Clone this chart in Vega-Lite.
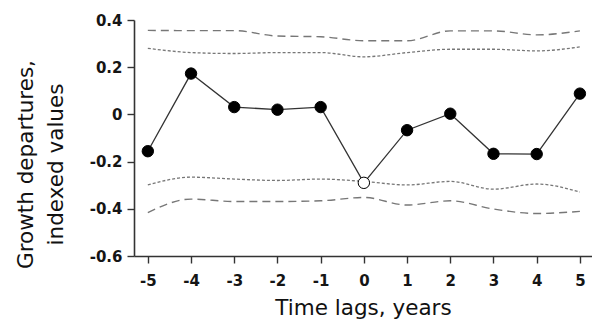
{
  "$schema": "https://vega.github.io/schema/vega-lite/v6.json",
  "width": 458,
  "height": 236,
  "autosize": "none",
  "padding": {"left": 134, "top": 20, "right": 0, "bottom": 71},
  "background": "white",
  "config": {
    "view": {"stroke": null},
    "font": "DejaVu Sans",
    "axis": {
      "domainColor": "#333",
      "domainWidth": 1.6,
      "tickColor": "#333",
      "tickWidth": 1.4,
      "tickSize": 7,
      "grid": false,
      "labelFont": "DejaVu Sans",
      "labelFontSize": 15,
      "labelFontWeight": "bold",
      "labelColor": "#151515",
      "titleFont": "DejaVu Sans",
      "titleFontSize": 21.5,
      "titleFontWeight": "normal",
      "titleColor": "#111"
    }
  },
  "data": {
    "values": [
      {"lag": -5, "dep": -0.156, "hi2": 0.356, "hi1": 0.28, "lo1": -0.299, "lo2": -0.416},
      {"lag": -4, "dep": 0.173, "hi2": 0.355, "hi1": 0.262, "lo1": -0.266, "lo2": -0.359},
      {"lag": -3, "dep": 0.031, "hi2": 0.355, "hi1": 0.258, "lo1": -0.274, "lo2": -0.369},
      {"lag": -2, "dep": 0.02, "hi2": 0.332, "hi1": 0.262, "lo1": -0.28, "lo2": -0.369},
      {"lag": -1, "dep": 0.031, "hi2": 0.329, "hi1": 0.262, "lo1": -0.274, "lo2": -0.366},
      {"lag": 0, "dep": -0.29, "hi2": 0.312, "hi1": 0.244, "lo1": -0.284, "lo2": -0.352},
      {"lag": 1, "dep": -0.067, "hi2": 0.312, "hi1": 0.262, "lo1": -0.299, "lo2": -0.384},
      {"lag": 2, "dep": 0.003, "hi2": 0.354, "hi1": 0.276, "lo1": -0.284, "lo2": -0.366},
      {"lag": 3, "dep": -0.167, "hi2": 0.354, "hi1": 0.276, "lo1": -0.317, "lo2": -0.401},
      {"lag": 4, "dep": -0.168, "hi2": 0.337, "hi1": 0.269, "lo1": -0.295, "lo2": -0.42},
      {"lag": 5, "dep": 0.088, "hi2": 0.354, "hi1": 0.286, "lo1": -0.329, "lo2": -0.411}
    ]
  },
  "encoding": {
    "x": {
      "field": "lag",
      "type": "quantitative",
      "scale": {"domain": [-5.32, 5.28], "nice": false, "zero": false},
      "axis": {
        "values": [-5, -4, -3, -2, -1, 0, 1, 2, 3, 4, 5],
        "labelExpr": "(datum.value < 0 ? '-' : '') + format(abs(datum.value), 'd')",
        "labelPadding": 10,
        "title": "Time lags, years",
        "titlePadding": 9
      }
    }
  },
  "layer": [
    {
      "mark": {"type": "line", "interpolate": "monotone", "color": "#777", "strokeWidth": 1.4, "strokeDash": [8, 5]},
      "encoding": {
        "y": {
          "field": "hi2",
          "type": "quantitative",
          "scale": {"domain": [-0.6, 0.4], "nice": false, "zero": false},
          "axis": {
            "values": [-0.6, -0.4, -0.2, 0, 0.2, 0.4],
            "labelExpr": "datum.value == 0 ? '0' : (datum.value < 0 ? '-' : '') + format(abs(datum.value), '.1f')",
            "labelPadding": 5,
            "title": ["Growth departures,", "indexed values"],
            "titleLineHeight": 30,
            "titlePadding": 22,
            "titleY": 144
          }
        }
      }
    },
    {
      "mark": {"type": "line", "interpolate": "monotone", "color": "#777", "strokeWidth": 1.4, "strokeDash": [8, 5]},
      "encoding": {"y": {"field": "lo2", "type": "quantitative"}}
    },
    {
      "mark": {"type": "line", "interpolate": "monotone", "color": "#777", "strokeWidth": 1.3, "strokeDash": [3, 2]},
      "encoding": {"y": {"field": "hi1", "type": "quantitative"}}
    },
    {
      "mark": {"type": "line", "interpolate": "monotone", "color": "#777", "strokeWidth": 1.3, "strokeDash": [3, 2]},
      "encoding": {"y": {"field": "lo1", "type": "quantitative"}}
    },
    {
      "mark": {"type": "line", "color": "#333", "strokeWidth": 1.3},
      "encoding": {"y": {"field": "dep", "type": "quantitative"}}
    },
    {
      "mark": {"type": "point", "filled": true, "size": 130, "stroke": "#000", "strokeWidth": 1, "opacity": 1},
      "encoding": {
        "y": {"field": "dep", "type": "quantitative"},
        "fill": {"condition": {"test": "datum.lag === 0", "value": "white"}, "value": "black"}
      }
    }
  ]
}
